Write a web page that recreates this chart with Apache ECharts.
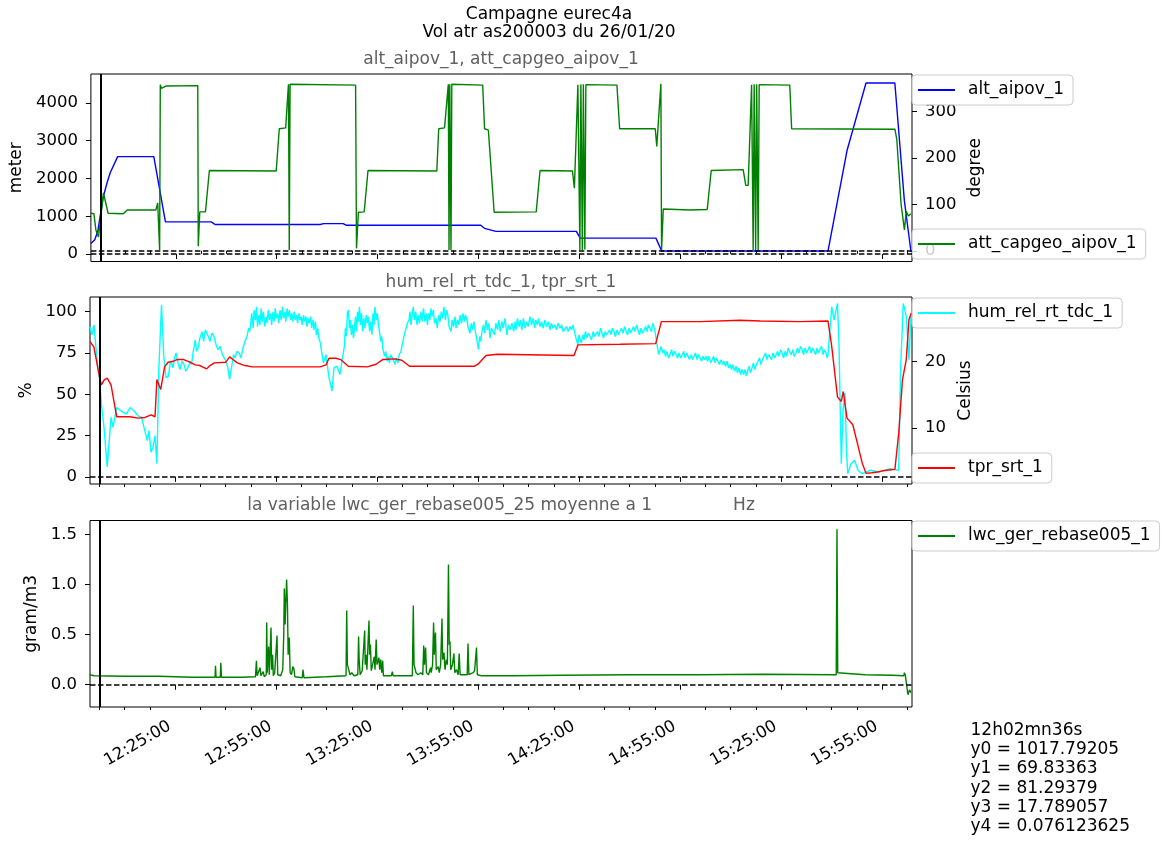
<!DOCTYPE html>
<html><head><meta charset="utf-8">
<script src="https://cdn.jsdelivr.net/npm/echarts@6/dist/echarts.min.js"></script>
<style>html,body{margin:0;padding:0;background:#fff}#c{width:1162px;height:845px}</style>
</head><body><div id="c"></div>
<script>
// time values are minutes since midnight
const T0 = 719.75, T1 = 963.91;
const majorTicks = [745, 775, 805, 835, 865, 895, 925, 955];
const minorTicks = [722.5, 730, 737.5, 752.5, 760, 767.5, 782.5, 790, 797.5, 812.5, 820, 827.5, 842.5, 850, 857.5, 872.5, 880, 887.5, 902.5, 910, 917.5, 932.5, 940, 947.5, 962.5];
const altTicks = [0, 1000, 2000, 3000, 4000];
const capTicks = [0, 100, 200, 300];
const humTicks = [0, 25, 50, 75, 100];
const tprTicks = [10, 20];
const lwcTicks = [0, 0.5, 1.0, 1.5];
const cursorTime = 722.6;
const readout = ['12h02mn36s', 'y0 = 1017.79205', 'y1 = 69.83363', 'y2 = 81.29379', 'y3 = 17.789057', 'y4 = 0.076123625'];

const altAipov = [[719.75,280],[720.9,380],[721.8,600],[722.5,1000],[723.4,1500],[724.6,1900],[725.5,2150],[727.7,2580],[738.46,2580],[741.91,850],[755.54,850],[756.67,780],[787.95,780],[788.96,805],[794.75,805],[795.79,760],[835.68,760],[836.78,680],[840.22,600],[864.1,600],[865.23,420],[887.77,420],[889.46,80],[938.94,80],[944.59,2740],[950.23,4530],[958.81,4530],[961.63,1420],[963.6,60]];

const attCapgeo = [[719.75,81],[720.64,80],[721.24,45],[722.01,30],[723.49,125],[724.86,81],[729.4,80],[730.53,88],[739.06,88],[739.62,103],[740.19,2],[740.39,358],[740.75,350],[742.03,355],[751.53,356],[751.68,10],[752.13,84],[753.82,84],[754.98,173],[774.85,172],[775.77,263],[777.67,265],[778.5,359],[778.74,2],[778.98,359],[798.46,357],[798.73,5],[799.29,83],[801.02,84],[802.15,173],[822.61,172],[823.18,263],[824.9,265],[826.03,359],[826.24,2],[826.47,359],[826.83,2],[827.07,359],[836.25,357],[836.81,263],[837.94,260],[839.66,83],[852.17,84],[853.3,173],[862.95,172],[863.52,135],[864.11,138],[864.56,358],[865.15,2],[865.45,359],[865.89,2],[866.19,359],[866.63,3],[866.93,358],[876.17,357],[876.97,263],[887.57,263],[888.02,225],[888.46,225],[889.24,360],[889.44,2],[889.95,90],[897.97,88],[903.02,89],[904.21,173],[913.71,175],[914.48,141],[915.2,141],[916.21,358],[916.68,2],[916.98,359],[917.42,2],[917.72,359],[918.17,2],[918.47,358],[927.56,357],[928.12,263],[958.83,262],[959.39,240],[960.67,100],[961.65,45],[962.21,85],[962.81,75],[963.61,80]];

const humRel = [[719.75,91],[720.34,86],[720.94,92],[721.53,78],[722.01,67],[722.57,60],[723.14,44],[723.91,30],[724.86,6],[725.39,20],[726.0,36],[726.58,30],[727.68,42],[728.96,40],[730.53,38],[731.63,42],[732.82,40],[734.01,37],[735.08,36],[735.79,30],[736.77,22],[737.27,28],[737.87,15],[738.46,18],[739.06,25],[739.62,8],[740.19,65],[740.99,104],[741.67,73],[742.32,60],[743.04,61],[743.5,68],[743.81,70],[744.4,66],[744.9,72],[745.3,75],[745.9,69],[746.48,65],[747.1,70],[747.67,68],[748.2,64],[748.71,63],[749.1,67],[749.45,70],[749.9,68],[750.34,75],[750.7,79],[751.0,83],[751.4,76],[751.83,78],[752.4,84],[753.02,88],[753.5,82],[754.0,89],[754.41,90],[754.9,85],[755.39,82],[756.0,87],[756.58,85],[757.2,80],[757.77,77],[758.4,79],[758.96,75],[759.6,72],[760.15,70],[760.7,66],[761.22,59],[761.6,64],[761.93,68],[762.4,74],[762.82,72],[763.4,76],[764.07,75],[764.6,72],[765.2,78],[765.8,82],[766.38,85],[766.9,90],[767.2,88],[767.5,93],[767.8,99],[768.2,90],[768.5,101],[768.9,95],[769.2,103],[769.5,91],[769.9,98],[770.2,92],[770.6,102],[770.9,94],[771.3,100],[771.6,91],[772.0,97],[772.3,93],[772.7,101],[773.0,95],[773.4,99],[773.7,92],[774.1,100],[774.4,94],[774.8,102],[775.1,96],[775.5,99],[775.8,93],[776.2,101],[776.5,95],[776.9,103],[777.2,96],[777.6,100],[777.9,94],[778.3,102],[778.6,97],[779.0,101],[779.3,95],[779.7,99],[780.0,94],[780.4,100],[780.7,95],[781.1,98],[781.4,93],[781.8,99],[782.1,95],[782.5,97],[782.8,92],[783.2,98],[783.5,94],[783.9,97],[784.2,91],[784.6,96],[784.9,93],[785.3,97],[785.6,90],[786.0,95],[786.3,89],[786.7,94],[787.0,86],[787.4,90],[787.7,84],[788.07,82],[789.08,69],[789.85,74],[790.74,60],[791.63,52],[792.23,66],[793.06,67],[794.01,62],[794.6,70],[795.3,79],[795.6,90],[795.9,85],[796.2,99],[796.5,101],[796.8,90],[797.1,95],[797.4,86],[797.7,92],[798.0,84],[798.3,90],[798.6,97],[798.9,88],[799.2,100],[799.5,94],[799.8,103],[800.1,92],[800.4,99],[800.8,88],[801.1,96],[801.4,90],[801.8,98],[802.1,93],[802.4,97],[802.8,88],[803.1,94],[803.5,86],[803.8,99],[804.1,92],[804.4,103],[804.8,95],[805.1,99],[805.5,91],[805.8,87],[806.1,82],[806.4,85],[806.7,78],[807.26,73],[807.6,76],[808.0,70],[808.3,73],[808.7,69],[809.0,74],[809.45,75],[809.8,71],[810.34,68],[810.7,72],[811.24,69],[811.6,74],[812.13,76],[812.5,80],[813.0,85],[813.52,89],[814.0,93],[814.5,95],[814.8,100],[815.1,92],[815.5,99],[815.78,103],[816.1,95],[816.5,100],[816.88,92],[817.2,98],[817.6,93],[818.07,100],[818.4,94],[818.8,102],[819.26,94],[819.6,99],[820.0,92],[820.32,99],[820.7,95],[821.0,102],[821.33,97],[821.7,101],[822.1,93],[822.52,96],[822.9,90],[823.3,98],[823.71,94],[824.1,100],[824.5,96],[824.9,103],[825.3,95],[825.7,101],[826.03,98],[826.4,91],[826.98,88],[827.3,95],[827.7,91],[828.17,97],[828.5,90],[828.9,95],[829.35,92],[829.7,98],[830.1,93],[830.54,99],[830.9,94],[831.3,98],[831.7,95],[832.1,90],[832.62,87],[833.0,93],[833.4,89],[833.81,94],[834.2,88],[834.6,84],[835.11,77],[835.5,85],[835.8,82],[836.18,88],[836.6,92],[837.0,87],[837.37,95],[837.8,89],[838.2,93],[838.56,84],[839.0,90],[839.45,91],[839.9,86],[840.3,93],[840.79,89],[841.2,95],[841.6,88],[842.12,94],[842.5,90],[843.0,96],[843.61,86],[844.0,92],[844.5,89],[845.1,93],[845.6,88],[846.0,94],[846.28,89],[846.7,96],[847.2,91],[847.62,95],[848.0,89],[848.5,96],[848.96,90],[849.4,94],[849.9,91],[850.44,97],[850.9,92],[851.4,96],[851.8,90],[852.17,95],[852.6,92],[853.0,96],[853.41,91],[853.9,94],[854.4,90],[854.9,95],[855.4,91],[855.9,94],[856.38,89],[856.8,93],[857.3,90],[857.84,92],[858.3,89],[858.8,93],[859.35,90],[859.8,92],[860.3,88],[860.84,87],[861.3,91],[861.8,88],[862.32,91],[862.8,89],[863.2,92],[863.51,91],[864.1,84],[864.67,80],[865.0,86],[865.29,85],[865.7,81],[866.1,86],[866.48,83],[866.9,88],[867.3,84],[867.8,87],[868.26,87],[868.7,83],[869.2,88],[869.6,85],[870.05,84],[870.5,88],[870.9,85],[871.4,90],[871.83,89],[872.3,84],[872.7,88],[873.2,86],[873.61,85],[874.1,89],[874.5,86],[874.9,90],[875.39,88],[875.8,85],[876.3,89],[876.7,86],[877.17,86],[877.6,90],[878.1,87],[878.5,91],[878.96,90],[879.4,86],[879.9,90],[880.3,87],[880.74,87],[881.2,91],[881.6,88],[882.1,92],[882.52,89],[883.0,86],[883.4,90],[883.9,87],[884.31,86],[884.8,91],[885.2,88],[885.6,92],[886.09,90],[886.5,88],[886.9,93],[887.22,92],[887.5,89],[887.78,88],[888.35,78],[888.7,74],[889.06,73],[889.4,79],[889.8,75],[890.25,77],[890.7,73],[891.1,76],[891.6,72],[892.03,74],[892.5,77],[892.9,73],[893.4,76],[893.81,76],[894.3,72],[894.7,75],[895.2,72],[895.6,73],[896.1,76],[896.5,72],[897.0,75],[897.38,75],[897.8,71],[898.3,74],[898.7,71],[899.16,72],[899.6,75],[900.1,71],[900.5,74],[900.94,74],[901.4,70],[901.8,73],[902.3,71],[902.73,73],[903.2,70],[903.6,73],[904.1,69],[904.51,71],[905.0,73],[905.4,69],[905.8,72],[906.29,72],[906.7,68],[907.2,71],[907.6,68],[908.07,70],[908.5,67],[909.0,70],[909.4,66],[909.85,68],[910.3,65],[910.7,68],[911.2,64],[911.63,67],[912.1,63],[912.5,66],[913.0,62],[913.41,65],[913.9,62],[914.3,65],[914.7,61],[915.05,64],[915.5,67],[915.9,63],[916.38,66],[916.8,69],[917.2,65],[917.7,68],[918.17,69],[918.6,72],[919.0,68],[919.5,71],[919.95,72],[920.4,75],[920.8,71],[921.3,74],[921.73,74],[922.2,71],[922.6,75],[923.1,72],[923.51,73],[924.0,76],[924.4,73],[924.9,77],[925.3,75],[925.8,72],[926.2,76],[926.7,73],[927.1,78],[927.55,77],[928.0,74],[928.5,77],[928.9,73],[929.45,75],[929.9,78],[930.3,75],[930.8,79],[931.24,77],[931.7,74],[932.1,78],[932.6,75],[933.02,76],[933.5,79],[933.9,75],[934.4,78],[934.8,78],[935.3,74],[935.7,78],[936.1,75],[936.58,76],[937.0,79],[937.5,74],[937.9,77],[938.37,75],[938.7,72],[938.96,74],[940.06,103],[940.74,95],[941.78,105],[942.23,80],[942.91,8],[943.42,40],[944.01,51],[944.46,15],[944.84,2],[945.79,8],[946.89,10],[947.87,4],[949.06,2],[951.43,4],[954.4,3],[957.37,5],[959.95,4],[960.52,65],[961.32,105],[962.21,97],[963.01,71],[963.61,99]];

const tprSrt = [[719.75,23.0],[720.88,22.2],[721.53,20.5],[722.57,17.7],[723.14,16.5],[723.91,17.2],[724.86,17.5],[726.0,16.5],[727.68,11.7],[731.63,11.7],[733.95,11.5],[736.09,11.6],[737.93,12.0],[739.06,11.7],[739.62,17.3],[740.75,15.8],[741.91,19.2],[742.92,19.9],[744.17,20.0],[745.59,20.3],[747.58,20.3],[749.45,19.9],[751.0,19.5],[752.42,19.4],[754.41,18.9],[755.39,19.4],[756.67,19.8],[760.09,19.9],[761.22,20.7],[762.23,20.3],[763.5,19.8],[765.79,19.4],[768.05,19.2],[779.16,19.2],[788.07,19.2],[789.85,19.5],[790.74,20.5],[792.82,20.5],[794.19,20.3],[796.47,19.3],[802.15,19.2],[804.7,19.6],[806.69,20.3],[810.34,20.4],[812.37,20.2],[814.65,19.3],[833.99,19.3],[835.0,19.6],[837.37,20.9],[840.79,21.1],[863.51,20.9],[864.67,22.5],[877.17,22.6],[887.78,22.7],[889.47,26.0],[900.94,26.0],[912.82,26.2],[918.76,26.1],[930.64,26.0],[938.96,26.1],[940.06,22.3],[941.78,14.7],[942.91,14.0],[943.48,15.5],[944.61,11.5],[946.33,10.5],[947.46,8.2],[949.15,4.7],[950.25,3.2],[952.03,3.3],[953.69,3.4],[955.3,3.6],[957.08,3.7],[958.83,3.8],[959.96,9.2],[961.09,17.3],[962.21,20.3],[963.01,26.3],[963.69,27.3]];

const lwcGer = [[719.75,0.1],[721,0.09],[730,0.085],[740.1,0.085],[740.3,0.1],[740.6,0.075],[750,0.075],[756.9,0.075],[757.03,0.19],[757.2,0.075],[758.45,0.075],[758.6,0.22],[758.8,0.075],[765,0.075],[768.9,0.08],[769.18,0.24],[769.4,0.09],[769.9,0.1],[770.25,0.17],[770.5,0.09],[771.2,0.13],[771.5,0.08],[772.1,0.1],[772.24,0.62],[772.4,0.12],[772.8,0.38],[773.0,0.1],[773.52,0.57],[773.7,0.15],[774.0,0.3],[774.2,0.09],[774.6,0.12],[775.3,0.49],[775.5,0.1],[776.0,0.11],[776.4,0.09],[777.0,0.15],[777.3,0.5],[777.46,0.96],[777.7,0.6],[778.15,1.05],[778.4,0.8],[778.6,0.3],[778.95,0.47],[779.2,0.12],[779.6,0.1],[779.99,0.18],[780.3,0.16],[780.6,0.08],[782.8,0.07],[783.02,0.15],[783.3,0.07],[790,0.08],[795.8,0.09],[796.0,0.74],[796.2,0.2],[796.68,0.2],[797.0,0.1],[797.5,0.12],[798.2,0.09],[799.3,0.1],[799.53,0.48],[799.7,0.25],[800.0,0.1],[800.6,0.14],[801.34,0.54],[801.5,0.2],[801.8,0.3],[802.0,0.15],[802.62,0.64],[802.8,0.3],[803.04,0.4],[803.3,0.14],[803.7,0.2],[804.2,0.28],[804.4,0.15],[804.76,0.45],[805.0,0.2],[805.56,0.27],[805.8,0.15],[806.1,0.25],[806.4,0.12],[806.69,0.24],[806.9,0.09],[809.3,0.09],[809.54,0.13],[809.8,0.09],[812,0.09],[815.5,0.09],[815.78,0.79],[816.0,0.2],[816.34,0.2],[816.6,0.12],[817.2,0.1],[818.0,0.12],[818.6,0.1],[818.87,0.39],[819.1,0.2],[819.43,0.37],[819.7,0.12],[820.3,0.1],[820.9,0.17],[821.1,0.12],[821.5,0.2],[821.81,0.62],[822.0,0.3],[822.37,0.52],[822.6,0.15],[823.17,0.18],[823.5,0.12],[823.9,0.2],[824.3,0.66],[824.5,0.25],[824.9,0.32],[825.2,0.15],[825.6,0.25],[825.9,0.2],[826.23,1.2],[826.45,0.4],[826.68,0.43],[826.9,0.15],[827.4,0.2],[827.84,0.31],[828.1,0.12],[828.6,0.15],[829.1,0.1],[829.41,0.31],[829.7,0.1],[831.8,0.1],[832.03,0.41],[832.3,0.1],[833.6,0.12],[833.99,0.14],[834.3,0.13],[834.55,0.37],[834.8,0.1],[836,0.09],[845,0.09],[860,0.095],[880,0.1],[900,0.1],[920,0.105],[941.4,0.1],[941.63,1.55],[941.85,0.12],[942.2,0.11],[950,0.1],[958,0.095],[961.5,0.09],[961.65,0.12],[961.9,0.1],[962.3,0.0],[962.72,-0.1],[963.2,-0.05],[963.6,-0.08]];

const FONT = 'DejaVu Sans';
const FS = 16.5;   // tick labels
const FT = 17;     // other text
const pad2 = n => (n < 10 ? '0' : '') + n;
const fmtTime = v => { const m = Math.round(v); return pad2(Math.floor(m / 60)) + ':' + pad2(m % 60) + ':00'; };

function xAx(g, ticks, len, labels) {
  return {
    type: 'value', gridIndex: g, min: T0, max: T1, position: 'bottom',
    axisLine: { show: false }, splitLine: { show: false },
    axisTick: { show: true, length: len, customValues: ticks, lineStyle: { color: '#000', width: 1 } },
    axisLabel: { show: labels, customValues: ticks, rotate: 30, margin: 15, padding: [0, 6, 0, 0], color: '#000', fontFamily: FONT, fontSize: FS, formatter: fmtTime }
  };
}
function yAx(g, pos, min, max, ticks, name, gap, fmt) {
  return {
    type: 'value', gridIndex: g, position: pos, min: min, max: max,
    name: name, nameLocation: 'middle', nameGap: gap, nameRotate: 90,
    nameTextStyle: { color: '#000', fontFamily: FONT, fontSize: FT },
    axisLine: { show: false }, splitLine: { show: false },
    axisTick: { show: true, length: 5, customValues: ticks, lineStyle: { color: '#000', width: 1 } },
    axisLabel: { customValues: ticks, margin: 13, color: '#000', fontFamily: FONT, fontSize: FS, formatter: fmt || (v => String(v)) }
  };
}
const dash = { color: '#000', width: 1.5, type: [5.5, 2.5] };
const vline = { xAxis: cursorTime, lineStyle: { color: '#000', width: 2, type: 'solid' } };
function ml(items) {
  return { silent: true, symbol: ['none', 'none'], label: { show: false }, animation: false, lineStyle: dash, data: items };
}
function line(name, xi, yi, data, color, marks) {
  return {
    type: 'line', name: name, xAxisIndex: xi, yAxisIndex: yi, data: data, color: color,
    symbol: 'none', showSymbol: false, animation: false, sampling: 'none',
    lineStyle: { color: color, width: 1.4 }, markLine: marks ? ml(marks) : undefined
  };
}
function leg(name, top) {
  return {
    data: [name], left: 912, top: top, orient: 'horizontal', selectedMode: false,
    backgroundColor: 'rgba(255,255,255,0.8)', borderColor: '#cccccc', borderWidth: 1, borderRadius: 4,
    padding: [5, 9, 5, 6], icon: 'rect', itemWidth: 37, itemHeight: 2,
    textStyle: { color: '#000', fontFamily: FONT, fontSize: FT, lineHeight: 20, padding: [0, 0, 0, 8] }
  };
}
function txt(x, y, s, color, align) {
  return { type: 'text', x: x, y: y, style: { text: s, fill: color, font: FT + 'px "' + FONT + '"', textAlign: align || 'center', textVerticalAlign: 'middle' } };
}

const chart = echarts.init(document.getElementById('c'));
chart.setOption({
  backgroundColor: '#fff',
  animation: false,
  grid: [
    { left: 90, top: 74, width: 822, height: 187.5, show: true, borderColor: '#000', borderWidth: 1, backgroundColor: 'transparent' },
    { left: 90, top: 297, width: 822, height: 187, show: true, borderColor: '#000', borderWidth: 1, backgroundColor: 'transparent' },
    { left: 90, top: 520.5, width: 822, height: 186.5, show: true, borderColor: '#000', borderWidth: 1, backgroundColor: 'transparent' }
  ],
  xAxis: [
    xAx(0, majorTicks, 5, false), xAx(0, minorTicks, 3, false),
    xAx(1, majorTicks, 5, false), xAx(1, minorTicks, 3, false),
    xAx(2, majorTicks, 5, true), xAx(2, minorTicks, 3, false)
  ],
  yAxis: [
    yAx(0, 'left', -199, 4768, altTicks, 'meter', 65),
    yAx(0, 'right', -23, 381, capTicks, 'degree', 50),
    yAx(1, 'left', -4.3, 108.9, humTicks, '%', 54),
    yAx(1, 'right', 1.6, 29.7, tprTicks, 'Celsius', 35),
    yAx(2, 'left', -0.222, 1.638, lwcTicks, 'gram/m3', 42, v => v.toFixed(1))
  ],
  legend: [
    leg('alt_aipov_1', 75), leg('att_capgeo_aipov_1', 229),
    leg('hum_rel_rt_tdc_1', 298), leg('tpr_srt_1', 453),
    leg('lwc_ger_rebase005_1', 521)
  ],
  series: [
    line('alt_aipov_1', 0, 0, altAipov, '#0000ff', [vline, { yAxis: 0 }]),
    line('att_capgeo_aipov_1', 0, 1, attCapgeo, '#008000', [{ yAxis: 0 }]),
    line('hum_rel_rt_tdc_1', 2, 2, humRel, '#00ffff', [vline, { yAxis: 0 }]),
    line('tpr_srt_1', 2, 3, tprSrt, '#ff0000'),
    line('lwc_ger_rebase005_1', 4, 4, lwcGer, '#008000', [vline, { yAxis: 0 }])
  ],
  graphic: [
    txt(549, 15, 'Campagne eurec4a', '#000'),
    txt(549, 33, 'Vol atr as200003 du 26/01/20', '#000'),
    txt(501, 60, 'alt_aipov_1, att_capgeo_aipov_1', '#606060'),
    txt(501, 283, 'hum_rel_rt_tdc_1, tpr_srt_1', '#606060'),
    txt(501, 506, 'la variable lwc_ger_rebase005_25 moyenne a 1               Hz', '#606060'),
    { type: 'text', x: 970.5, y: 721, style: { text: readout.join('\n'), fill: '#000', font: FT + 'px "' + FONT + '"', lineHeight: 19.2, textAlign: 'left', textVerticalAlign: 'top' } }
  ]
});
</script></body></html>
